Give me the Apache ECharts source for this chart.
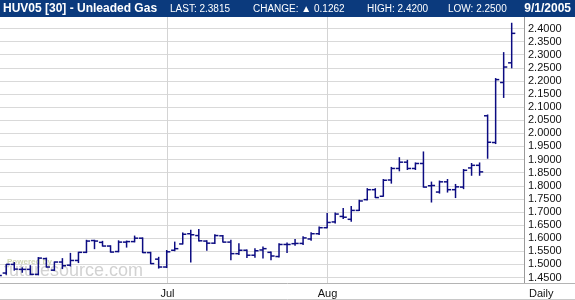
<!DOCTYPE html>
<html><head><meta charset="utf-8">
<script src="https://cdn.jsdelivr.net/npm/echarts@6/dist/echarts.min.js"></script>
<style>html,body{margin:0;padding:0;background:#fff}#c{width:575px;height:300px}</style>
</head><body><div id="c"></div>
<script>
// ---- data ----
const dates = [
 '2005-06-02','2005-06-03','2005-06-06','2005-06-07','2005-06-08','2005-06-09','2005-06-10',
 '2005-06-13','2005-06-14','2005-06-15','2005-06-16','2005-06-17','2005-06-20','2005-06-21',
 '2005-06-22','2005-06-23','2005-06-24','2005-06-27','2005-06-28','2005-06-29','2005-06-30',
 '2005-07-01','2005-07-05','2005-07-06','2005-07-07','2005-07-08','2005-07-11','2005-07-12',
 '2005-07-13','2005-07-14','2005-07-15','2005-07-18','2005-07-19','2005-07-20','2005-07-21',
 '2005-07-22','2005-07-25','2005-07-26','2005-07-27','2005-07-28','2005-07-29',
 '2005-08-01','2005-08-02','2005-08-03','2005-08-04','2005-08-05','2005-08-08','2005-08-09',
 '2005-08-10','2005-08-11','2005-08-12','2005-08-15','2005-08-16','2005-08-17','2005-08-18',
 '2005-08-19','2005-08-22','2005-08-23','2005-08-24','2005-08-25','2005-08-26','2005-08-29',
 '2005-08-30','2005-08-31','2005-09-01'];
const openV  = [1.470,1.467,1.500,1.481,1.481,1.462,1.522,1.478,1.509,1.497,1.515,1.546,1.591,1.584,1.570,1.549,1.585,1.587,1.600,1.545,1.520,
                1.490,1.554,1.578,1.617,1.610,1.589,1.581,1.609,1.585,1.541,1.554,1.535,1.555,1.546,1.530,1.576,1.579,1.580,1.597,1.617,
                1.640,1.662,1.683,1.672,1.706,1.747,1.785,1.760,1.822,1.866,1.890,1.866,1.885,1.800,1.776,1.815,1.785,1.795,1.868,1.878,
                2.067,1.965,2.194,2.269];
const highV  = [1.472,1.500,1.507,1.487,1.495,1.526,1.524,1.509,1.522,1.542,1.546,1.592,1.592,1.588,1.571,1.590,1.589,1.608,1.601,1.546,1.527,
                1.553,1.585,1.620,1.630,1.633,1.590,1.613,1.610,1.592,1.579,1.555,1.560,1.566,1.547,1.579,1.582,1.595,1.605,1.621,1.643,
                1.694,1.696,1.713,1.721,1.745,1.789,1.789,1.824,1.870,1.907,1.897,1.887,1.929,1.814,1.818,1.824,1.805,1.862,1.885,1.887,
                2.070,2.209,2.308,2.420];
const lowV   = [1.455,1.462,1.478,1.470,1.461,1.460,1.490,1.477,1.484,1.494,1.507,1.545,1.560,1.570,1.547,1.548,1.566,1.586,1.545,1.503,1.486,
                1.488,1.552,1.578,1.509,1.589,1.554,1.580,1.585,1.518,1.538,1.526,1.527,1.524,1.518,1.528,1.545,1.573,1.576,1.592,1.614,
                1.640,1.658,1.675,1.665,1.706,1.746,1.755,1.760,1.810,1.857,1.862,1.862,1.795,1.738,1.772,1.776,1.755,1.789,1.840,1.840,
                1.905,1.961,2.137,2.250];
const closeV = [1.458,1.500,1.482,1.481,1.462,1.524,1.490,1.509,1.495,1.515,1.546,1.589,1.589,1.570,1.547,1.585,1.587,1.600,1.545,1.503,1.490,
                1.548,1.560,1.615,1.613,1.590,1.581,1.610,1.585,1.541,1.554,1.535,1.552,1.560,1.532,1.576,1.576,1.580,1.601,1.617,1.640,
                1.660,1.692,1.680,1.706,1.742,1.785,1.755,1.821,1.866,1.890,1.866,1.885,1.795,1.801,1.815,1.785,1.796,1.859,1.878,1.853,
                1.966,2.205,2.253,2.3815];
const monthNames = ['Jan','Feb','Mar','Apr','May','Jun','Jul','Aug','Sep','Oct','Nov','Dec'];
const titleText = 'HUV05 [30] - Unleaded Gas';
const infoItems = ['LAST: 2.3815', 'CHANGE: \u25B2 0.1262', 'HIGH: 2.4200', 'LOW: 2.2500'];
const dateText = '9/1/2005';
const periodText = 'Daily';

// ---- chart ----
const chart = echarts.init(document.getElementById('c'), null, {renderer: 'canvas'});
const BAR = '#0c0c82';
const seriesData = dates.map((d, i) => [i, openV[i], highV[i], lowV[i], closeV[i]]);

chart.setOption({
  animation: false,
  backgroundColor: '#ffffff',
  grid: {left: 0, right: 51, top: 28.5, bottom: 22.5, containLabel: false},
  xAxis: {
    type: 'value', min: 0.222, max: 65.535,
    axisLine: {show: false}, axisTick: {show: false}, axisLabel: {show: false}, splitLine: {show: false}
  },
  yAxis: {
    type: 'value', position: 'right', min: 1.45, max: 2.40, interval: 0.05,
    axisLine: {show: false}, axisTick: {show: false},
    axisLabel: {margin: 4, color: '#111', fontSize: 11, fontFamily: 'Arial, "Liberation Sans", sans-serif',
                formatter: v => v.toFixed(4)},
    splitLine: {lineStyle: {color: '#d9d9d9', width: 1}}
  },
  series: [{
    type: 'custom',
    clip: false,
    z: 5,
    data: seriesData,
    encode: {x: 0, y: [1, 2, 3, 4]},
    renderItem: function (params, api) {
      const i = api.value(0);
      const o = api.coord([i, api.value(1)]);
      const h = api.coord([i, api.value(2)]);
      const l = api.coord([i, api.value(3)]);
      const c = api.coord([i, api.value(4)]);
      const x = o[0];
      const t = api.size([1, 0])[0] * 0.45;
      const st = {stroke: BAR, lineWidth: 1.5};
      return {type: 'group', children: [
        {type: 'line', shape: {x1: x, y1: h[1] - 0.5, x2: x, y2: l[1] + 0.5}, style: st},
        {type: 'line', shape: {x1: x - t, y1: o[1], x2: x, y2: o[1]}, style: st},
        {type: 'line', shape: {x1: x, y1: c[1], x2: x + t, y2: c[1]}, style: st}
      ]};
    }
  }]
});

// ---- frame, header, month labels ----
const W = 575, H = 300, HEAD = 17, PLOT_R = 524.5, PLOT_B = 283.5, LBL_Y = 294;
const g = [];
g.push({type: 'rect', z: 1, shape: {x: 0, y: 0, width: W, height: HEAD}, style: {fill: '#0b3a7d'}});
g.push({type: 'text', z: 2, x: 3, y: 8.5, style: {text: titleText, fill: '#fff', font: 'bold 12px Arial, "Liberation Sans", sans-serif', textVerticalAlign: 'middle'}});
const infoX = [170, 253, 367, 448];
infoItems.forEach((t, k) => g.push({type: 'text', z: 2, x: infoX[k], y: 9, style: {text: t, fill: '#fff', font: '10px Arial, "Liberation Sans", sans-serif', textVerticalAlign: 'middle'}}));
g.push({type: 'text', z: 2, x: 571, y: 8.5, style: {text: dateText, fill: '#fff', font: 'bold 12px Arial, "Liberation Sans", sans-serif', textAlign: 'right', textVerticalAlign: 'middle'}});

// month gridlines + labels from dates
for (let i = 1; i < dates.length; i++) {
  const m = +dates[i].slice(5, 7), pm = +dates[i - 1].slice(5, 7);
  if (m !== pm && i < dates.length - 1) {
    const px = Math.round(chart.convertToPixel({xAxisIndex: 0}, i)) + 0.5;
    g.push({type: 'line', z: 0, shape: {x1: px, y1: HEAD, x2: px, y2: PLOT_B}, style: {stroke: '#d4d4d4', lineWidth: 1}});
    g.push({type: 'text', z: 2, x: px, y: LBL_Y, style: {text: monthNames[m - 1], fill: '#111', font: '11px Arial, "Liberation Sans", sans-serif', textAlign: 'center', textVerticalAlign: 'middle'}});
  }
}
g.push({type: 'line', z: 1, shape: {x1: PLOT_R, y1: HEAD, x2: PLOT_R, y2: PLOT_B}, style: {stroke: '#9a9a9a', lineWidth: 1}});
g.push({type: 'line', z: 1, shape: {x1: 0, y1: PLOT_B, x2: W, y2: PLOT_B}, style: {stroke: '#b4b4b4', lineWidth: 1}});
g.push({type: 'line', z: 1, shape: {x1: 0, y1: H - 0.5, x2: W, y2: H - 0.5}, style: {stroke: '#c8c8c8', lineWidth: 1}});
g.push({type: 'text', z: 2, x: 529, y: LBL_Y, style: {text: periodText, fill: '#111', font: '11px Arial, "Liberation Sans", sans-serif', textVerticalAlign: 'middle'}});
// watermark
g.push({type: 'text', z: 0, x: 7, y: 261.5, style: {text: 'Powered by', fill: '#cfd6b4', font: 'bold 8px Arial, "Liberation Sans", sans-serif', textVerticalAlign: 'middle'}});
g.push({type: 'text', z: 0, x: 4, y: 271.5, style: {text: 'futuresource.com', fill: '#d2d2d2', font: '18px Arial, "Liberation Sans", sans-serif', textVerticalAlign: 'middle'}});

chart.setOption({graphic: {elements: g}});
</script></body></html>
